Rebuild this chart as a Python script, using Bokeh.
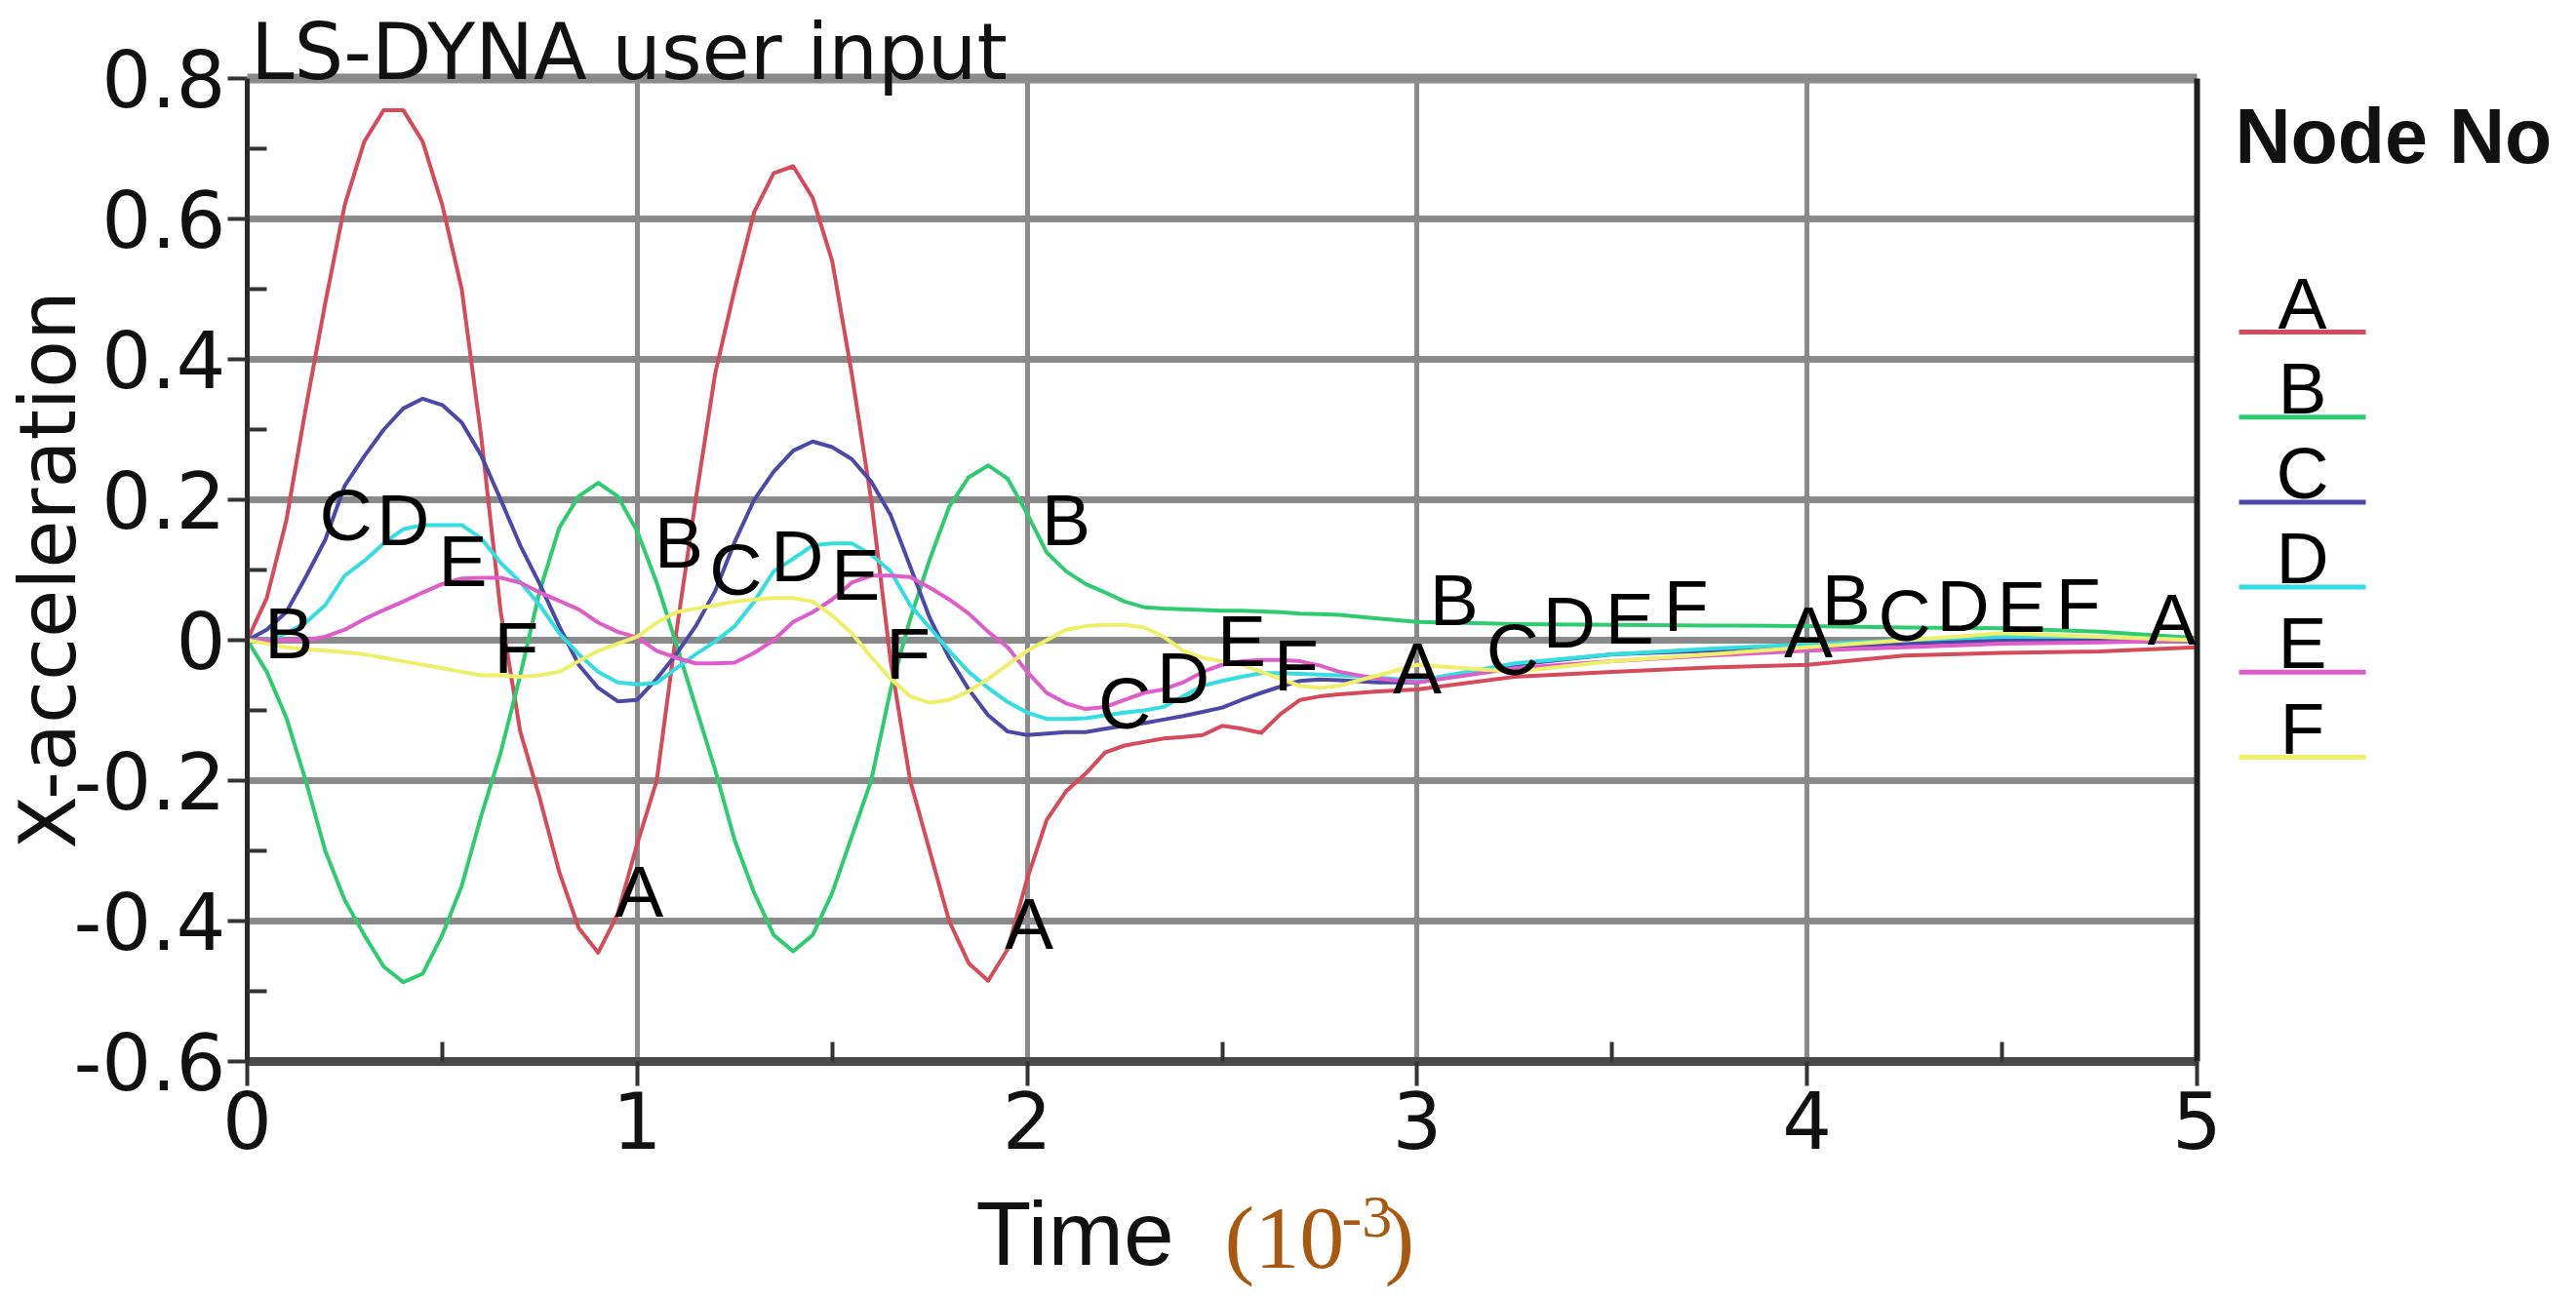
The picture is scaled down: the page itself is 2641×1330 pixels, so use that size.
import numpy as np
from bokeh.plotting import figure
from bokeh.layouts import row, column
from bokeh.models import (Range1d, FixedTicker, LinearAxis, LabelSet,
                          ColumnDataSource, Plot)
from bokeh.core.properties import value
from bokeh.embed import file_html
from bokeh.resources import INLINE

# ---------------- data (time in 10^-3 s) ----------------
time_ms = [0.00, 0.05, 0.10, 0.15, 0.20, 0.25, 0.30, 0.35, 0.40, 0.45,
           0.50, 0.55, 0.60, 0.65, 0.70, 0.75, 0.80, 0.85, 0.90, 0.95,
           1.00, 1.05, 1.10, 1.15, 1.20, 1.25, 1.30, 1.35, 1.40, 1.45,
           1.50, 1.55, 1.60, 1.65, 1.70, 1.75, 1.80, 1.85, 1.90, 1.95,
           2.00, 2.05, 2.10, 2.15, 2.20, 2.25, 2.30, 2.35, 2.40, 2.45,
           2.50, 2.55, 2.60, 2.65, 2.70, 2.75, 2.80, 2.90, 3.00, 3.25,
           3.50, 3.75, 4.00, 4.25, 4.50, 4.75, 5.00]

node_a = [0.000, 0.060, 0.170, 0.330, 0.480, 0.620, 0.710, 0.755, 0.755, 0.710,
          0.620, 0.500, 0.290, 0.040, -0.130, -0.225, -0.330, -0.410, -0.445, -0.390,
          -0.290, -0.200, 0.010, 0.200, 0.380, 0.500, 0.610, 0.665, 0.675, 0.630,
          0.540, 0.380, 0.200, -0.030, -0.200, -0.300, -0.400, -0.460, -0.485, -0.440,
          -0.340, -0.256, -0.215, -0.190, -0.160, -0.150, -0.145, -0.140, -0.138, -0.135,
          -0.122, -0.126, -0.132, -0.105, -0.085, -0.080, -0.077, -0.073, -0.070, -0.052,
          -0.045, -0.039, -0.035, -0.022, -0.018, -0.016, -0.010]

node_b = [0.000, -0.045, -0.110, -0.200, -0.300, -0.370, -0.420, -0.465, -0.487, -0.475,
          -0.420, -0.350, -0.250, -0.160, -0.050, 0.070, 0.160, 0.205, 0.224, 0.205,
          0.155, 0.082, -0.005, -0.095, -0.185, -0.285, -0.360, -0.420, -0.443, -0.420,
          -0.360, -0.280, -0.200, -0.070, 0.030, 0.115, 0.190, 0.232, 0.249, 0.230,
          0.180, 0.125, 0.098, 0.080, 0.068, 0.055, 0.047, 0.045, 0.044, 0.043,
          0.042, 0.042, 0.041, 0.040, 0.038, 0.037, 0.036, 0.031, 0.026, 0.023,
          0.022, 0.021, 0.020, 0.018, 0.017, 0.012, 0.003]

node_c = [0.000, 0.015, 0.040, 0.090, 0.143, 0.220, 0.262, 0.300, 0.330, 0.344,
          0.335, 0.310, 0.263, 0.200, 0.135, 0.080, 0.020, -0.035, -0.068, -0.087,
          -0.085, -0.055, -0.020, 0.020, 0.070, 0.140, 0.200, 0.240, 0.270, 0.283,
          0.275, 0.258, 0.226, 0.178, 0.105, 0.032, -0.025, -0.070, -0.107, -0.130,
          -0.135, -0.133, -0.131, -0.131, -0.126, -0.122, -0.118, -0.113, -0.108, -0.102,
          -0.096, -0.085, -0.075, -0.066, -0.058, -0.056, -0.057, -0.060, -0.060, -0.035,
          -0.020, -0.015, -0.010, -0.005, 0.000, 0.000, 0.000]

node_d = [0.000, 0.000, 0.010, 0.025, 0.050, 0.092, 0.113, 0.138, 0.158, 0.164,
          0.164, 0.164, 0.145, 0.110, 0.083, 0.050, 0.010, -0.020, -0.045, -0.060,
          -0.063, -0.061, -0.040, -0.020, -0.002, 0.020, 0.055, 0.098, 0.116, 0.135,
          0.138, 0.138, 0.122, 0.098, 0.050, 0.018, -0.015, -0.045, -0.068, -0.088,
          -0.103, -0.112, -0.112, -0.111, -0.107, -0.103, -0.100, -0.095, -0.080, -0.065,
          -0.058, -0.052, -0.047, -0.047, -0.048, -0.049, -0.050, -0.053, -0.058, -0.033,
          -0.020, -0.012, -0.006, 0.000, 0.005, 0.005, 0.000]

node_e = [0.000, 0.000, 0.000, 0.000, 0.005, 0.015, 0.030, 0.043, 0.055, 0.068,
          0.080, 0.088, 0.089, 0.089, 0.082, 0.068, 0.056, 0.044, 0.025, 0.012,
          0.004, -0.015, -0.025, -0.033, -0.033, -0.032, -0.018, 0.000, 0.026, 0.040,
          0.058, 0.082, 0.092, 0.092, 0.090, 0.075, 0.058, 0.038, 0.012, -0.010,
          -0.045, -0.075, -0.090, -0.098, -0.095, -0.085, -0.075, -0.070, -0.060, -0.045,
          -0.035, -0.030, -0.028, -0.028, -0.030, -0.036, -0.045, -0.055, -0.060, -0.040,
          -0.030, -0.022, -0.015, -0.010, -0.005, -0.003, 0.000]

node_f = [0.000, -0.005, -0.010, -0.013, -0.015, -0.017, -0.020, -0.025, -0.030, -0.035,
          -0.040, -0.045, -0.050, -0.050, -0.052, -0.050, -0.045, -0.030, -0.015, -0.005,
          0.005, 0.025, 0.040, 0.045, 0.050, 0.055, 0.058, 0.060, 0.060, 0.055,
          0.035, 0.010, -0.024, -0.055, -0.080, -0.089, -0.085, -0.073, -0.055, -0.035,
          -0.015, 0.000, 0.015, 0.020, 0.022, 0.022, 0.018, 0.005, -0.015, -0.025,
          -0.030, -0.035, -0.045, -0.055, -0.065, -0.068, -0.065, -0.050, -0.035, -0.045,
          -0.030, -0.020, -0.010, 0.000, 0.010, 0.005, 0.000]

node_names = ["A", "B", "C", "D", "E", "F"]
node_colors = ["#d64a5a", "#2ecc70", "#4b48a8", "#33dde0", "#e05cc8", "#eef06a"]

x_ticks = [0, 1, 2, 3, 4, 5]
x_minor = [0.5, 1.5, 2.5, 3.5, 4.5]
y_ticks = [-0.6, -0.4, -0.2, 0, 0.2, 0.4, 0.6, 0.8]
y_tick_labels = ["-0.6", "-0.4", "-0.2", "0", "0.2", "0.4", "0.6", "0.8"]
y_minor = [-0.5, -0.3, -0.1, 0.1, 0.3, 0.5, 0.7]

title_text = "LS-DYNA user input"
title_center_t = 0.979
y_title = "X-acceleration"
x_title = "Time"
x_unit_parts = ["(10", "-3", ")"]
legend_title = "Node No"

# curve identification letters written along the curves
mark_text = ["B", "C", "D", "E", "F",
             "A", "B", "C", "D", "E", "F",
             "A", "B", "C", "D", "E", "F",
             "A", "B", "C", "D", "E", "F",
             "A", "B", "C", "D", "E", "F",
             "A"]
mark_t = [0.107, 0.253, 0.400, 0.553, 0.690,
          1.005, 1.107, 1.253, 1.410, 1.560, 1.695,
          2.005, 2.100, 2.250, 2.400, 2.550, 2.690,
          3.000, 3.095, 3.245, 3.390, 3.545, 3.690,
          4.003, 4.100, 4.250, 4.400, 4.550, 4.695,
          4.935]
mark_v = [0.011, 0.178, 0.172, 0.113, -0.010,
          -0.358, 0.139, 0.101, 0.120, 0.094, -0.019,
          -0.404, 0.172, -0.089, -0.054, -0.001, -0.035,
          -0.040, 0.058, -0.013, 0.026, 0.031, 0.050,
          0.012, 0.058, 0.035, 0.050, 0.048, 0.052,
          0.030]

series = [node_a, node_b, node_c, node_d, node_e, node_f]

# ---------------- layout sizes (page has no body margin) ----------------
TOTAL_W, TOTAL_H = 2640, 1328
FRAME_L, FRAME_R, FRAME_T, FRAME_B = 252, 2252, 80, 1088
MAIN_W, MAIN_H = 2280, 1211
LEG_W = TOTAL_W - MAIN_W
CAP_H = TOTAL_H - MAIN_H
MID = 0.3465   # distance baseline -> middle anchor, in em

HAS_FRAME_ALIGN = "frame_align" in Plot.properties()

# ---------------- main chart ----------------
p = figure(width=MAIN_W, height=MAIN_H, output_backend="svg", toolbar_location=None,
           x_range=Range1d(0, 5), y_range=Range1d(-0.6, 0.8),
           min_border_left=FRAME_L, min_border_right=MAIN_W - FRAME_R,
           min_border_top=FRAME_T, min_border_bottom=MAIN_H - FRAME_B,
           background_fill_color="white", border_fill_color="white",
           outline_line_color=None)
if HAS_FRAME_ALIGN:
    p.frame_align = False

TICK_FONT = "DejaVu Sans"

xa = p.xaxis[0]
xa.ticker = FixedTicker(ticks=x_ticks, minor_ticks=x_minor)
xa.major_label_text_font = TICK_FONT
xa.major_label_text_font_size = "80px"
xa.major_label_text_color = "#111111"
xa.major_label_standoff = 5
xa.major_tick_in = 0
xa.major_tick_out = 25
xa.minor_tick_in = 20
xa.minor_tick_out = 0
xa.major_tick_line_color = "#333333"
xa.major_tick_line_width = 4
xa.minor_tick_line_color = "#333333"
xa.minor_tick_line_width = 4
xa.axis_line_color = "#4a4a4a"
xa.axis_line_width = 9

ya = p.yaxis[0]
ya.ticker = FixedTicker(ticks=y_ticks, minor_ticks=y_minor)
ya.major_label_overrides = dict(zip(y_ticks, y_tick_labels))
ya.major_label_text_font = TICK_FONT
ya.major_label_text_font_size = "80px"
ya.major_label_text_color = "#111111"
ya.major_label_standoff = 2
ya.major_tick_in = 0
ya.major_tick_out = 20
ya.minor_tick_in = 20
ya.minor_tick_out = 0
ya.major_tick_line_color = "#333333"
ya.major_tick_line_width = 4
ya.minor_tick_line_color = "#333333"
ya.minor_tick_line_width = 4
ya.axis_line_color = "#2a2a2a"
ya.axis_line_width = 5
ya.axis_label = y_title
ya.axis_label_text_font = "DejaVu Sans"
ya.axis_label_text_font_size = "80px"
ya.axis_label_text_font_style = "normal"
ya.axis_label_text_color = "#111111"
ya.axis_label_standoff = -24

p.xgrid.ticker = xa.ticker
p.ygrid.ticker = ya.ticker
p.xgrid.grid_line_color = "#8a8a8a"
p.xgrid.grid_line_width = 5
p.ygrid.grid_line_color = "#8a8a8a"
p.ygrid.grid_line_width = 7

# top border carrying the plot caption
top_axis = LinearAxis(ticker=FixedTicker(ticks=[title_center_t]),
                      major_label_overrides={title_center_t: title_text},
                      axis_line_color="#8a8a8a", axis_line_width=10,
                      major_tick_line_color=None, minor_tick_line_color=None,
                      major_tick_out=0, major_tick_in=0,
                      minor_tick_out=0, minor_tick_in=0,
                      major_label_text_font="DejaVu Sans",
                      major_label_text_font_size="80px",
                      major_label_text_color="#111111",
                      major_label_standoff=-19)
p.add_layout(top_axis, "above")

right_axis = LinearAxis(ticker=FixedTicker(ticks=[]), axis_line_color="#1e1e1e",
                        axis_line_width=6, major_tick_line_color=None,
                        minor_tick_line_color=None, major_tick_out=0,
                        major_tick_in=0, minor_tick_out=0, minor_tick_in=0,
                        major_label_standoff=0,
                        major_label_text_font_size="0px")
p.add_layout(right_axis, "right")

for ys, col in zip(series, node_colors):
    p.line(time_ms, ys, line_color=col, line_width=4, line_join="round")

marks = ColumnDataSource(dict(t=mark_t, v=mark_v, text=mark_text))
p.add_layout(LabelSet(x="t", y="v", text="text", source=marks,
                      text_font=value("Liberation Sans"), text_font_size="75px",
                      text_align="center", text_baseline="middle",
                      text_color="#000000"))

# ---------------- helper for the text-only side panels ----------------
def blank_panel(w, h):
    f = figure(width=w, height=h, output_backend="svg", toolbar_location=None,
               x_range=Range1d(0, w), y_range=Range1d(h, 0),
               x_axis_type=None, y_axis_type=None,
               min_border=0, min_border_left=0, min_border_right=0,
               min_border_top=0, min_border_bottom=0,
               outline_line_color=None, background_fill_color="white",
               border_fill_color="white")
    if HAS_FRAME_ALIGN:
        f.frame_align = False
    return f

# ---------------- legend panel (right) ----------------
leg = blank_panel(LEG_W, MAIN_H)
leg_line_x0, leg_line_x1 = 15, 145
leg_first_y, leg_pitch = 340, 87.2
leg_line_y = [leg_first_y + i * leg_pitch for i in range(len(node_names))]
leg.text(x=[11], y=[166 - MID * 79], text=[legend_title],
         text_font=value("Liberation Sans"), text_font_size="79px",
         text_font_style="bold", text_align="left", text_baseline="middle",
         text_color="#111111")
leg.segment(x0=[leg_line_x0] * len(node_names), y0=leg_line_y,
            x1=[leg_line_x1] * len(node_names), y1=leg_line_y,
            line_color=node_colors, line_width=5)
leg.text(x=[(leg_line_x0 + leg_line_x1) / 2] * len(node_names),
         y=[y - 4 - MID * 75 for y in leg_line_y], text=node_names,
         text_font=value("Liberation Sans"), text_font_size="75px",
         text_align="center", text_baseline="middle", text_color="#000000")

# ---------------- x-axis caption strip (bottom) ----------------
cap = blank_panel(TOTAL_W, CAP_H)
cap_top = MAIN_H
time_size, time_base = 93, 1297
cap.text(x=[1000], y=[time_base - cap_top - MID * time_size], text=[x_title],
         text_font=value("Liberation Sans"), text_font_size="%dpx" % time_size,
         text_align="left", text_baseline="middle", text_color="#111111")
unit_color = "#a8590f"
unit_sizes = [92, 62, 92]
unit_base = [1300, 1269, 1300]
cap.text(x=[1255, 1375, 1419],
         y=[b - cap_top - MID * s for b, s in zip(unit_base, unit_sizes)],
         text=x_unit_parts,
         text_font=value("Liberation Serif"),
         text_font_size=["%dpx" % s for s in unit_sizes],
         text_align="left", text_baseline="middle", text_color=unit_color)

layout = column(row(p, leg), cap)
open("out.html", "w").write(file_html(layout, INLINE))
